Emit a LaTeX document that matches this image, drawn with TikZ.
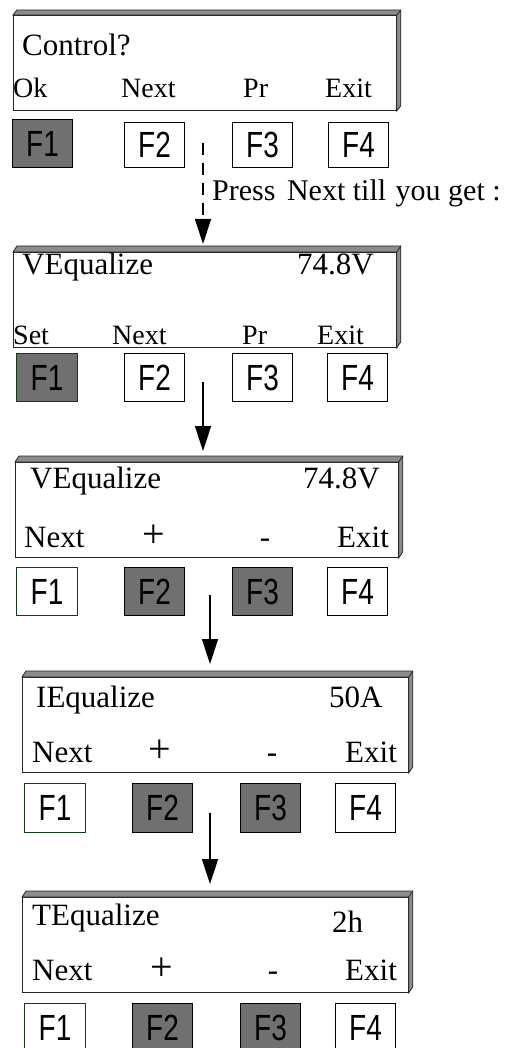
\documentclass[tikz,border=0pt]{standalone}
\usepackage{fontspec}
\setmainfont{Liberation Serif}
\newfontfamily\keyfont{Liberation Sans}
\usetikzlibrary{arrows.meta}
\definecolor{bevelgray}{RGB}{140,140,140}
\definecolor{keygray}{RGB}{112,112,112}
\definecolor{okgreen}{RGB}{20,60,20}
\newcommand{\keylbl}[1]{\scalebox{1}[1.3]{#1}}

\begin{document}
\begin{tikzpicture}[x=1pt, y=-1pt,
  screen/.style={draw=black!85, line width=0.8pt, fill=white, inner sep=0pt, anchor=north west, minimum width=383pt, minimum height=95pt},
  bevel/.style={draw=black!85, line width=0.8pt, fill=bevelgray},
  lcd/.style={anchor=base west, inner sep=0pt, font=\fontsize{31}{36}\selectfont},
  soft/.style={anchor=base west, inner sep=0pt, font=\fontsize{28}{34}\selectfont},
  plus/.style={anchor=base, inner sep=0pt, font=\fontsize{40}{44}\selectfont},
  key/.style={draw, line width=1.1pt, fill=white, inner sep=0pt, anchor=north west, minimum width=60pt, minimum height=48pt, font=\keyfont\fontsize{28}{32}\selectfont},
  hot/.style={fill=keygray},
  okkey/.style={draw=okgreen},
  flow/.style={line width=1.6pt, -{Triangle[length=25pt,width=16pt]}}]

\useasboundingbox (0,0) rectangle (514,1048);

% screen 1
\node [screen] (s1) at (13,15) {};
\filldraw [bevel] (s1.north west) -- ++(4,-5) -- ([shift={(4,-5)}]s1.north east) -- ([shift={(4,-5)}]s1.south east) -- (s1.south east) -- (s1.north east) -- cycle;
\draw [black!85, line width=0.8pt] (s1.north east) -- ++(4,-5);
\node [lcd] (s1t) at (22,56) {Control?};
\node [soft] (s1a) at (13,98) {Ok};
\node [soft] (s1b) at (121,98) {Next};
\node [soft] (s1c) at (243,98) {Pr};
\node [soft] (s1d) at (325,98) {Exit};

\node [key, hot] (k1a) at (12,119) {\keylbl{F1}};
\node [key] (k1b) at (124,122) [minimum height=45pt] {\keylbl{F2}};
\node [key] (k1c) at (232,122) [minimum height=45pt] {\keylbl{F3}};
\node [key] (k1d) at (328,122) [minimum height=45pt] {\keylbl{F4}};

\node [anchor=base west, inner sep=0pt, font=\fontsize{30}{36}\selectfont] (hint) at (212,201) {Press\hspace{4pt} Next till\hspace{2pt} you get :};

% screen 2
\node [screen] (s2) at (13,252) {};
\filldraw [bevel] (s2.north west) -- ++(4,-6) -- ([shift={(4,-6)}]s2.north east) -- ([shift={(4,-6)}]s2.south east) -- (s2.south east) -- (s2.north east) -- cycle;
\draw [black!85, line width=0.8pt] (s2.north east) -- ++(4,-6);
\node [lcd] (s2t) at (22,275) {VEqualize};
\node [lcd] (s2v) at (297,275) {74.8V};
\node [soft] (s2a) at (13,344) {Set};
\node [soft] (s2b) at (112,344) {Next};
\node [soft] (s2c) at (242,344) {Pr};
\node [soft] (s2d) at (317,344) {Exit};

\node [key, hot, okkey] (k2a) at (16,353) [minimum width=61pt] {\keylbl{F1}};
\node [key] (k2b) at (124,353) {\keylbl{F2}};
\node [key] (k2c) at (232,353) {\keylbl{F3}};
\node [key] (k2d) at (327,353) {\keylbl{F4}};

% screen 3
\node [screen] (s3) at (15,462) {};
\filldraw [bevel] (s3.north west) -- ++(4,-6) -- ([shift={(4,-6)}]s3.north east) -- ([shift={(4,-6)}]s3.south east) -- (s3.south east) -- (s3.north east) -- cycle;
\draw [black!85, line width=0.8pt] (s3.north east) -- ++(4,-6);
\node [lcd] (s3t) at (30,488) {VEqualize};
\node [lcd] (s3v) at (303,488) {74.8V};
\node [lcd] (s3a) at (24,547) {Next};
\node [plus] (s3b) at (154,547) {+};
\node [lcd, anchor=base] (s3c) at (265,547) {-};
\node [lcd] (s3d) at (337,547) {Exit};

\node [key, okkey] (k3a) at (16,567) [minimum width=61pt] {\keylbl{F1}};
\node [key, hot] (k3b) at (124,567) {\keylbl{F2}};
\node [key, hot] (k3c) at (232,567) {\keylbl{F3}};
\node [key] (k3d) at (327,567) {\keylbl{F4}};

% screen 4
\node [screen] (s4) at (22,677) [minimum width=386pt] {};
\filldraw [bevel] (s4.north west) -- ++(4,-6) -- ([shift={(4,-6)}]s4.north east) -- ([shift={(4,-6)}]s4.south east) -- (s4.south east) -- (s4.north east) -- cycle;
\draw [black!85, line width=0.8pt] (s4.north east) -- ++(4,-6);
\node [lcd] (s4t) at (36,707) {IEqualize};
\node [lcd] (s4v) at (329,707) {50A};
\node [lcd] (s4a) at (32,762) {Next};
\node [plus] (s4b) at (160,762) {+};
\node [lcd, anchor=base] (s4c) at (272,762) {-};
\node [lcd] (s4d) at (345,762) {Exit};

\node [key, okkey] (k4a) at (24,783) [minimum width=61pt, minimum height=49pt] {\keylbl{F1}};
\node [key, hot] (k4b) at (132,783) [minimum height=49pt] {\keylbl{F2}};
\node [key, hot] (k4c) at (240,783) [minimum height=49pt] {\keylbl{F3}};
\node [key] (k4d) at (335,783) [minimum height=49pt] {\keylbl{F4}};

% screen 5
\node [screen] (s5) at (22,897) [minimum width=386pt] {};
\filldraw [bevel] (s5.north west) -- ++(4,-6) -- ([shift={(4,-6)}]s5.north east) -- ([shift={(4,-6)}]s5.south east) -- (s5.south east) -- (s5.north east) -- cycle;
\draw [black!85, line width=0.8pt] (s5.north east) -- ++(4,-6);
\node [lcd] (s5t) at (32,925) {TEqualize};
\node [lcd] (s5v) at (332,932) {2h};
\node [lcd] (s5a) at (32,980) {Next};
\node [plus] (s5b) at (162,980) {+};
\node [lcd, anchor=base] (s5c) at (273,980) {-};
\node [lcd] (s5d) at (345,980) {Exit};

\node [key, okkey] (k5a) at (24,1003) [minimum width=61pt, minimum height=49pt] {\keylbl{F1}};
\node [key, hot] (k5b) at (132,1003) [minimum height=49pt] {\keylbl{F2}};
\node [key, hot] (k5c) at (240,1003) [minimum height=49pt] {\keylbl{F3}};
\node [key] (k5d) at (335,1003) [minimum height=49pt] {\keylbl{F4}};

% arrows
\coordinate (a1s) at (203,143);
\coordinate (a1e) at (203,244);
\coordinate (a2s) at (203,382);
\coordinate (a2e) at (203,451);
\coordinate (a3s) at (210,595);
\coordinate (a3e) at (210,664);
\coordinate (a4s) at (210,813);
\coordinate (a4e) at (210,884);

\draw [flow, line width=1.2pt, dash pattern=on 12pt off 8pt] (a1s) -- (a1e);
\draw [flow] (a2s) -- (a2e);
\draw [flow] (a3s) -- (a3e);
\draw [flow] (a4s) -- (a4e);

\end{tikzpicture}
\end{document}
